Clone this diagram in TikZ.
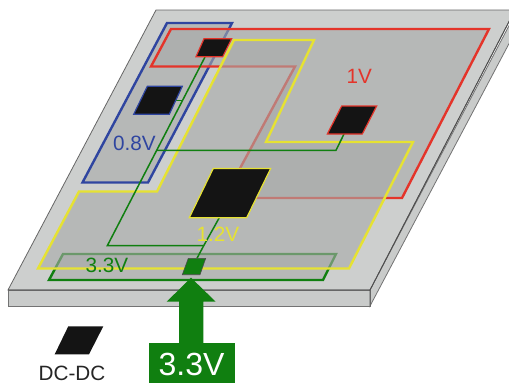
\documentclass[tikz,border=0pt]{standalone}
\usepackage{fontspec}
\setmainfont{Liberation Sans}
\definecolor{boardc}{HTML}{CDCFCE}
\definecolor{sidec}{HTML}{C9CBCA}
\definecolor{overlayc}{HTML}{A8AAA8}
\definecolor{redc}{HTML}{E4342A}
\definecolor{bluec}{HTML}{2F45A0}
\definecolor{yelc}{HTML}{E6E232}
\definecolor{grnc}{HTML}{107F10}
\definecolor{chipc}{HTML}{141414}
\tikzset{
  boardedge/.style={draw=black!70,line width=0.8pt,line join=miter},
  region/.style={fill=overlayc,fill opacity=0.6,line width=2.4pt,line join=miter},
  chip/.style={fill=chipc,line width=1.2pt,line join=miter},
  trace/.style={draw=grnc,line width=1.5pt,line join=miter},
  lab/.style={inner sep=0pt,anchor=base west,font=\fontsize{20.7}{24}\selectfont},
}
\begin{document}
\begin{tikzpicture}[x=1pt,y=-1pt]
\clip (0,0) rectangle (509,383);
% board
\fill[white] (0,0) rectangle (509,383);
\draw[boardedge,fill=sidec,draw=black!55] (370,290) -- (370,306) -- (512,38) -- (512,20) -- cycle;
\draw[boardedge,fill=sidec,draw=black!55] (8,290) -- (370,290) -- (370,306) -- (8,306) -- cycle;
\draw[boardedge,fill=boardc,draw=black!60] (156,10) -- (515,10) -- (370,290) -- (8,290) -- cycle;
\draw[boardedge] (8,290) -- (370,290) -- (515,10) (370,290) -- (370,306);
% regions, each one veiling the ones before it
\path[region,draw=grnc] (63,254) -- (336,254) -- (323,280) -- (49,280) -- cycle;
\path[region,draw=bluec] (167,23) -- (232,23) -- (148,182.5) -- (82.5,182.5) -- cycle;
\path[region,draw=redc] (171,29) -- (489,29) -- (402,198) -- (224,198) -- (295,66.5) -- (151,66.5) -- cycle;
\path[region,draw=yelc] (234,40) -- (314,40) -- (266,142) -- (413,142) -- (349,268.5) -- (38,268.5) -- (79,191.5) -- (157,191.5) -- cycle;
% chips
\coordinate (rchipb) at (205,57);
\coordinate (bchipr) at (176,100.7);
\coordinate (vchipb) at (344,134);
\coordinate (bigb) at (219.3,217.7);
\coordinate (gchipt) at (197,258.3);
\coordinate (tcorner) at (107.3,245.7);
\coordinate (tj1) at (182.4,100.7);
\coordinate (tj2) at (156.7,150.3);
\coordinate (tj3) at (203.7,245.7);
\coordinate (tcorner2) at (336,150.3);
% traces
\draw[trace] (rchipb) -- (tj1) -- (tj2) -- (tcorner) -- (tj3);
\draw[trace] (bchipr) -- (tj1);
\draw[trace] (tj2) -- (tcorner2) -- (vchipb);
\draw[trace] (bigb) -- (tj3) -- (gchipt);
\path[chip,draw=redc] (204,38.7) -- (231.7,38.7) -- (222.7,56.7) -- (196,56.7) -- cycle;
\path[chip,draw=bluec] (147.3,86.3) -- (182.3,86.3) -- (169.3,114.3) -- (133.7,114.3) -- cycle;
\path[chip,draw=redc] (341.7,106) -- (376.7,106) -- (362.3,134) -- (327.3,134) -- cycle;
\path[chip,draw=yelc] (213.3,168.4) -- (270.7,168.4) -- (246.7,217.7) -- (189.3,217.7) -- cycle;
\path[fill=grnc,draw=black!70,line width=0.6pt] (188.3,258.3) -- (205.7,258.3) -- (200,274.7) -- (182.3,274.7) -- cycle;
\fill[chipc] (68.3,326.3) -- (103.3,326.3) -- (89,354.3) -- (54.7,354.3) -- cycle;
% supply arrow
\node[fill=grnc,inner sep=0pt,minimum width=86pt,minimum height=41pt] (supply) at (192,363) {};
\coordinate (tip) at (191,277.7);
\fill[grnc] (tip) -- (215.7,301.7) -- (203.3,301.7) -- (203.3,343) -- (179,343) -- (179,301.7) -- (166.7,301.7) -- cycle;
% labels
\node[lab,text=white,font=\fontsize{32}{36}\selectfont] (supplylab) at (158.5,375) {3.3V};
\node[lab,text=bluec] (l08) at (113,150.7) {0.8V};
\node[lab,text=redc] (l1) at (346.5,83.3) {1V};
\node[lab,text=yelc] (l12) at (196.5,241.7) {1.2V};
\node[lab,text=grnc] (l33) at (85.5,272.7) {3.3V};
\node[lab,text=black!85] (ldc) at (38.5,380) {DC-DC};
\end{tikzpicture}
\end{document}
